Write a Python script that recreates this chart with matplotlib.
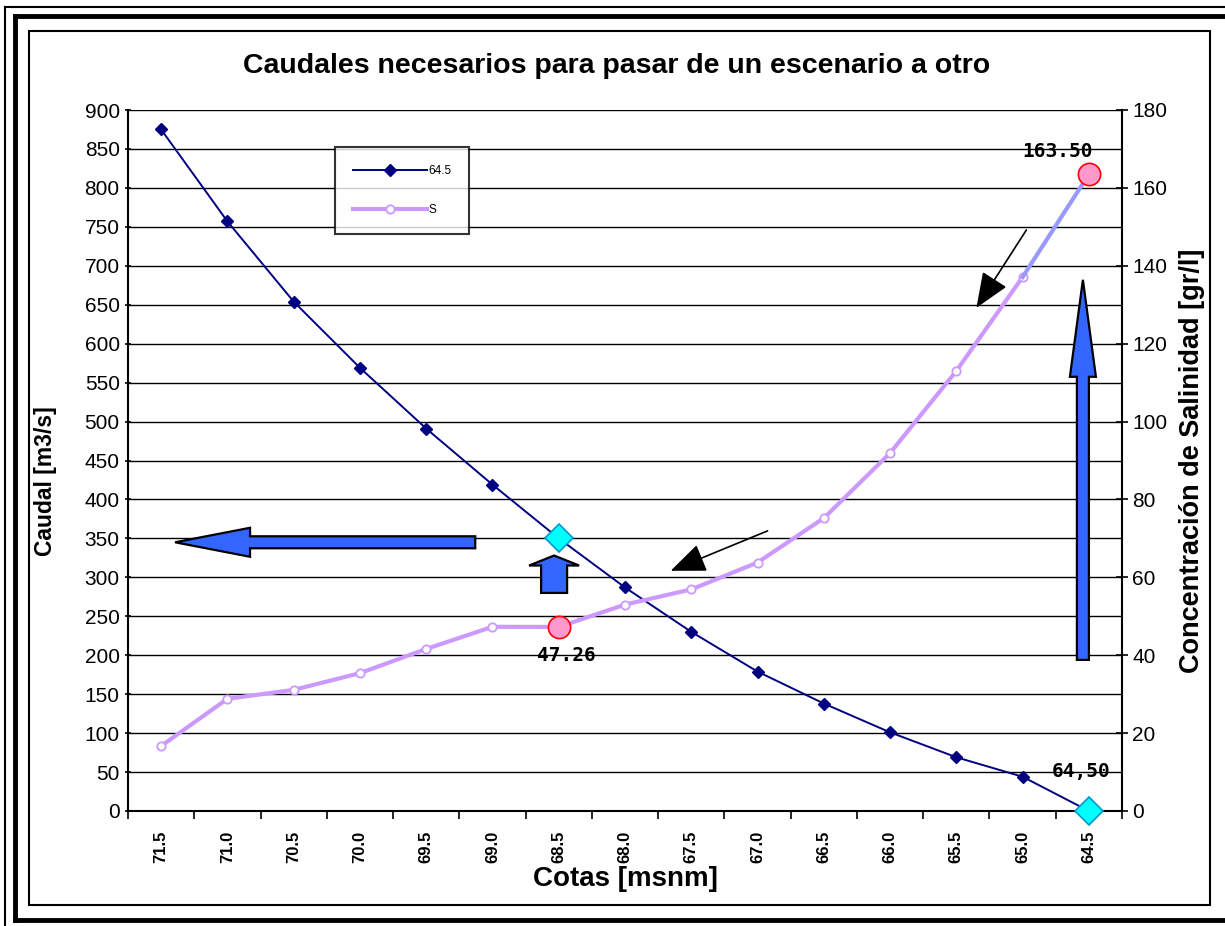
import numpy as np
import matplotlib.pyplot as plt
from matplotlib.lines import Line2D
from matplotlib.patches import Rectangle, Polygon
from matplotlib.transforms import IdentityTransform

plt.rcParams['font.family'] = ['Liberation Sans', 'DejaVu Sans']

# datos
cotas = ['71.5', '71.0', '70.5', '70.0', '69.5', '69.0', '68.5', '68.0',
         '67.5', '67.0', '66.5', '66.0', '65.5', '65.0', '64.5']
caudal = [875, 757, 654, 569, 491, 419, 350, 287, 230, 179, 138, 101, 69, 44, 0]
salinidad = [16.7, 28.8, 31.1, 35.4, 41.6, 47.3, 47.26, 53.0, 56.9, 63.8,
             75.2, 91.9, 113.0, 137.1, 163.5]
idx_esc1 = 6      # cota 68.5
idx_esc2 = 14     # cota 64.5

x = np.arange(len(cotas))

fig = plt.figure(figsize=(12.25, 9.26), dpi=100)
ax = fig.add_axes([128/1225, 1-811/926, (1122-128)/1225, (811-110)/926])
ax2 = ax.twinx()

# marcos exteriores
W, H = 1225, 926
def fx(p): return p / W
def fy(p): return 1 - p / H
tf = fig.transFigure
fig.add_artist(Line2D([fx(5), fx(5)], [fy(7), 0], color='k', lw=1.5, transform=tf))
fig.add_artist(Line2D([fx(5), 1], [fy(7), fy(7)], color='k', lw=1.5, transform=tf))
fig.add_artist(Line2D([fx(15), fx(15)], [fy(16), fy(920)], color='k', lw=3.5, transform=tf))
fig.add_artist(Line2D([fx(15), 1], [fy(16), fy(16)], color='k', lw=3.5, transform=tf))
fig.add_artist(Line2D([fx(15), 1], [fy(920), fy(920)], color='k', lw=3.5, transform=tf))
fig.add_artist(Rectangle((fx(29), fy(905)), fx(1210) - fx(29), fy(31) - fy(905),
                         fill=False, ec='k', lw=1.5, transform=tf))

# eje izquierdo: caudal
ax.set_xlim(-0.5, len(cotas) - 0.5)
ax.set_ylim(0, 900)
ax.set_yticks(np.arange(0, 901, 50))
ax.yaxis.grid(True, color='k', lw=1.0)
ax.set_axisbelow(True)
ax.set_xticks(x)
ax.set_xticklabels(cotas, rotation=90, fontsize=12, fontweight='bold')
ax.set_xticks(np.arange(-0.5, len(cotas)), minor=True)
ax.tick_params(axis='x', which='major', length=0, pad=14)
ax.tick_params(axis='x', which='minor', length=6, width=1.2, direction='out')
ax.tick_params(axis='y', labelsize=15, length=5, width=1.2, direction='inout')
for s in ['top', 'right']:
    ax.spines[s].set_visible(False)
ax.spines['left'].set_linewidth(1.5)
ax.spines['bottom'].set_linewidth(1.5)

ax2.set_ylim(0, 180)
ax2.set_yticks(np.arange(0, 181, 20))
ax2.tick_params(axis='y', labelsize=15, length=8, width=1.2, direction='inout')
for s in ['top', 'left', 'bottom']:
    ax2.spines[s].set_visible(False)
ax2.spines['right'].set_linewidth(1.5)

ax.set_ylabel('Caudal [m3/s]', fontsize=16.5, fontweight='bold')
ax.yaxis.set_label_coords(-0.071, 0.47)
ax2.set_ylabel('Concentración de Salinidad [gr/l]', fontsize=19.5, fontweight='bold', labelpad=8)
ax.set_xlabel('Cotas [msnm]', fontsize=20, fontweight='bold', labelpad=2)
fig.text(fx(617), fy(66), 'Caudales necesarios para pasar de un escenario a otro',
         ha='center', va='center', fontsize=20.5, fontweight='bold')

# series
l1, = ax.plot(x, caudal, color='#000080', lw=1.4, marker='D', ms=6,
              mfc='#000080', mec='#000080', label='64.5', zorder=5)
l2, = ax2.plot(x[:-1], salinidad[:-1], color='#cc99ff', lw=3, marker='o', ms=6,
               mfc='white', mec='#cc99ff', mew=1.3, label='S', zorder=4)
ax2.plot(x[-2:], salinidad[-2:], color='#9999ff', lw=3, zorder=4)

# escenarios destacados
ax.plot(x[[idx_esc1, idx_esc2]], [caudal[idx_esc1], caudal[idx_esc2]], 'D', ms=14,
        mfc='#00ffff', mec='#0099cc', mew=1.2, zorder=7, clip_on=False)
ax2.plot(x[[idx_esc1, idx_esc2]], [salinidad[idx_esc1], salinidad[idx_esc2]], 'o', ms=16,
         mfc='#ff99cc', mec='red', mew=1.2, zorder=7, clip_on=False)

lbl = dict(fontsize=14, fontweight='bold', family='DejaVu Sans Mono')
ax2.text(x[idx_esc2] - 0.48, salinidad[idx_esc2] + 3.3, f'{salinidad[idx_esc2]:.2f}',
         ha='center', va='bottom', **lbl)
ax2.text(x[idx_esc1] + 0.12, salinidad[idx_esc1] - 5, f'{salinidad[idx_esc1]:.2f}',
         ha='center', va='top', **lbl)
ax.text(x[idx_esc2] + 0.33, 38, '64,50', ha='right', va='bottom', **lbl)


# flechas de bloque (anchos en pixeles)
def block_arrow(p0, p1, shaft, head_w, head_len, color='#3366ff'):
    a = ax.transData.transform(p0)
    b = ax.transData.transform(p1)
    d = b - a
    L = np.hypot(*d)
    u = d / L
    n = np.array([-u[1], u[0]])
    base = b - u * head_len
    pts = [a + n * shaft / 2, base + n * shaft / 2, base + n * head_w / 2, b,
           base - n * head_w / 2, base - n * shaft / 2, a - n * shaft / 2]
    fig.add_artist(Polygon(pts, closed=True, fc=color, ec='k', lw=1.6,
                           transform=IdentityTransform(), zorder=6))


block_arrow((4.74, 345), (0.21, 345), 12, 29, 75)
block_arrow((5.93, 280), (5.93, 328), 26, 50, 10)
block_arrow((13.91, 194), (13.91, 682), 12, 26, 97)

ax.annotate('', xy=(7.65, 307), xytext=(9.19, 361),
            arrowprops=dict(arrowstyle='-|>,head_length=2.2,head_width=0.9', color='k', lw=1.2))
ax.annotate('', xy=(12.28, 643), xytext=(13.08, 749),
            arrowprops=dict(arrowstyle='-|>,head_length=2.2,head_width=0.9', color='k', lw=1.2))

leg = fig.legend(handles=[l1, l2], loc='upper left', bbox_to_anchor=(fx(335), fy(147)),
                 fontsize=8.5, frameon=True, fancybox=False, handlelength=6.3,
                 labelspacing=2.3, borderpad=1.5, borderaxespad=0, handletextpad=0.1)
leg.get_frame().set_edgecolor('k')
leg.get_frame().set_linewidth(1.5)

fig.savefig('out.png', dpi=100)
